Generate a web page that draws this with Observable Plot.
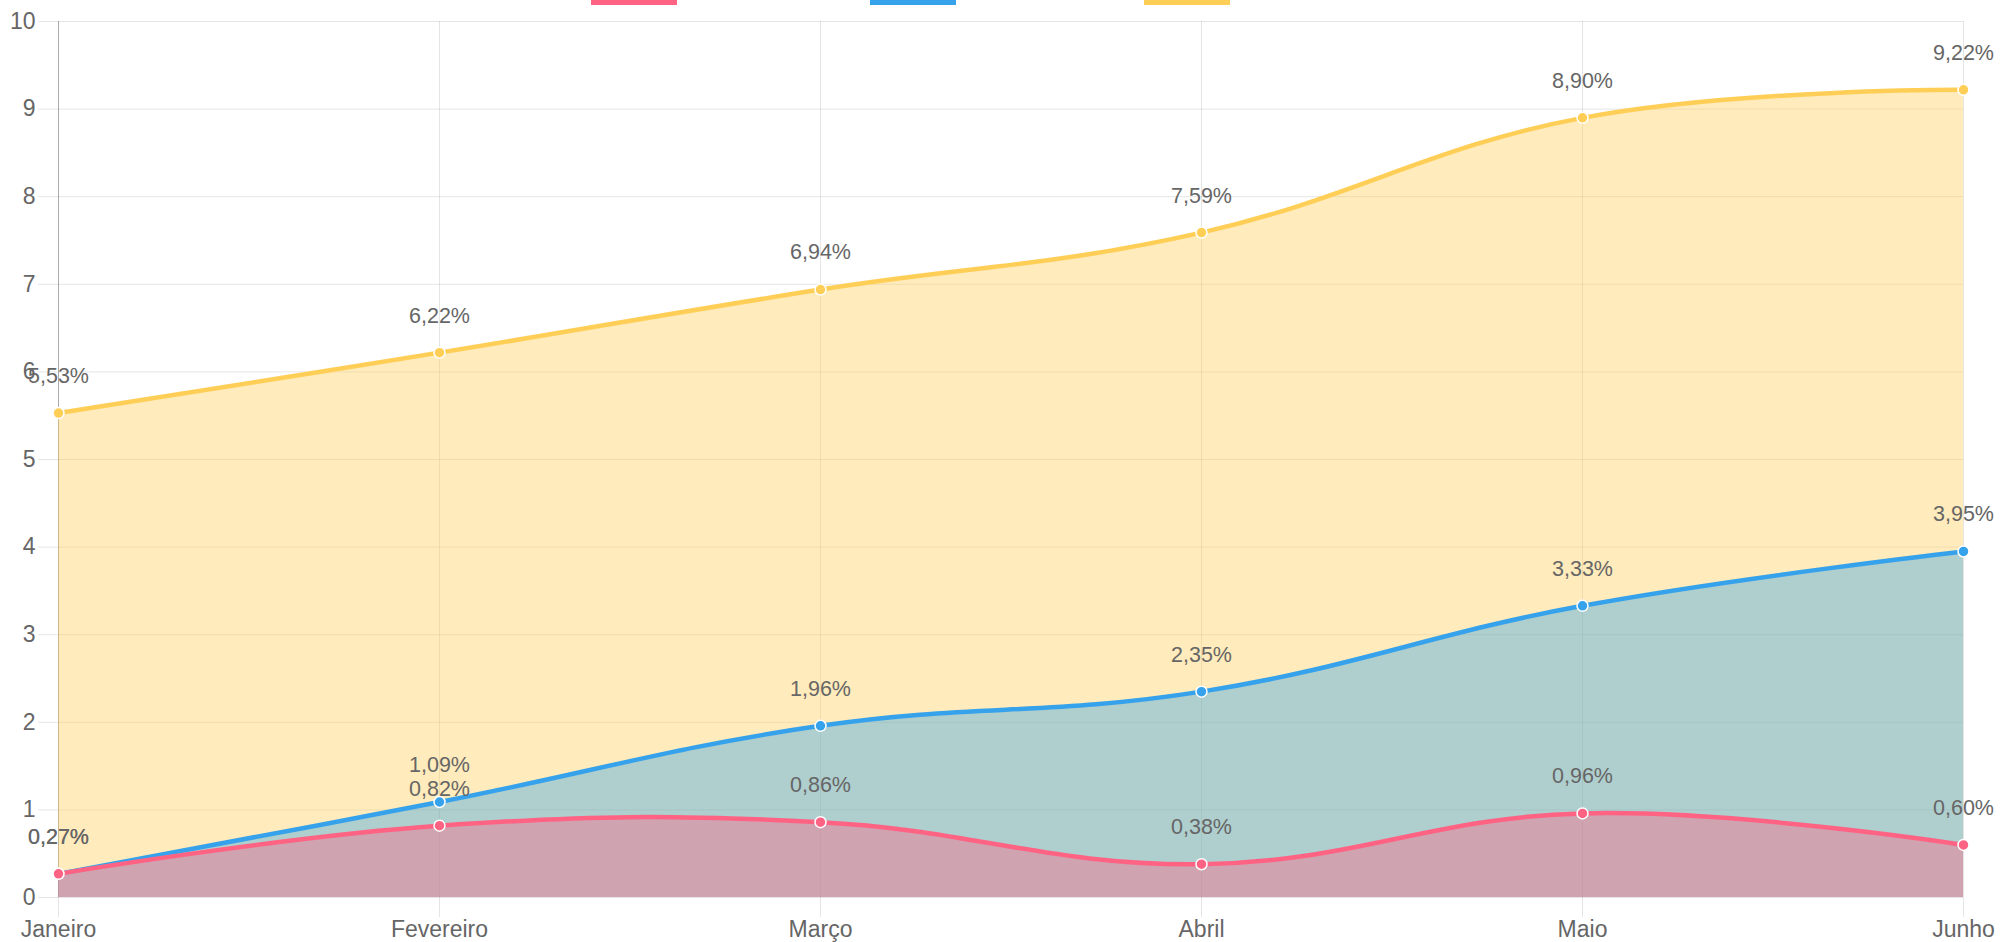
<!DOCTYPE html>
<html>
<head>
<meta charset="utf-8">
<script src="https://cdn.jsdelivr.net/npm/d3@7"></script>
<script src="https://cdn.jsdelivr.net/npm/@observablehq/plot@0.6"></script>
<style>
  html, body { margin: 0; padding: 0; background: #fff; }
  #legend { position: relative; width: 2002px; height: 5px; }
  #legend div { position: absolute; top: 0; height: 5px; width: 86px; }
</style>
</head>
<body>
<div id="legend"></div>
<div id="chart"></div>
<script>
const months = ["Janeiro", "Fevereiro", "Março", "Abril", "Maio", "Junho"];
const seriesNames = ["A", "B", "C"];
const seriesColors = ["#ff6384", "#36a2eb", "#ffce56"];
const pinkValues = [0.27, 0.82, 0.86, 0.38, 0.96, 0.60];
const blueValues = [0.27, 1.09, 1.96, 2.35, 3.33, 3.95];
const yellowValues = [5.53, 6.22, 6.94, 7.59, 8.90, 9.22];
const yTicks = [0, 1, 2, 3, 4, 5, 6, 7, 8, 9, 10];

const seriesValues = [pinkValues, blueValues, yellowValues];

// legend (only the lower edge of the boxes is visible in the reference)
const legendLeft = [591, 870, 1144];
const legend = document.getElementById("legend");
seriesColors.forEach((c, i) => {
  const d = document.createElement("div");
  d.style.left = legendLeft[i] + "px";
  d.style.background = c;
  legend.appendChild(d);
});

const fmt = v => v.toFixed(2).replace(".", ",") + "%";
const curve = "cardinal";
const tension = -0.2;

// draw order: yellow (bottom), blue, pink (top)
const order = [2, 1, 0];
const seriesMarks = [];
for (const i of order) {
  const data = months.map((m, j) => ({month: m, value: seriesValues[i][j]}));
  seriesMarks.push(
    Plot.areaY(data, {x: "month", y: "value", fill: seriesColors[i], fillOpacity: 0.4, curve, tension}),
    Plot.lineY(data, {x: "month", y: "value", stroke: seriesColors[i], strokeWidth: 4.5, curve, tension}),
    Plot.dot(data, {x: "month", y: "value", r: 5.5, fill: seriesColors[i], stroke: "#fff", strokeWidth: 1.5})
  );
}
const labelMarks = [];
for (const i of order) {
  const data = months.map((m, j) => ({month: m, value: seriesValues[i][j]}));
  labelMarks.push(
    Plot.text(data, {x: "month", y: "value", text: d => fmt(d.value), dy: -37, fontSize: 21.5, fill: "#666"})
  );
}

const chart = Plot.plot({
  width: 2002,
  height: 937,
  marginTop: 16,
  marginBottom: 45,
  marginLeft: 57,
  marginRight: 39,
  style: {fontFamily: "'Helvetica Neue', Helvetica, Arial, 'Liberation Sans', sans-serif", fontSize: "23px", color: "#666", background: "#fff", overflow: "visible"},
  x: {type: "point", domain: months, padding: 0},
  y: {domain: [0, 10]},
  marks: [
    Plot.gridY(yTicks, {stroke: "#000", strokeOpacity: 0.1, strokeWidth: 1}),
    Plot.gridX(months, {stroke: "#000", strokeOpacity: 0.1, strokeWidth: 1}),
    Plot.axisY(yTicks, {tickSize: 19, tickPadding: 3, tickFormat: d => String(d), fontSize: 23, fill: "#666", stroke: "#000", strokeOpacity: 0.1, label: null}),
    Plot.axisX(months, {tickSize: 20, tickPadding: 3, fontSize: 23, fill: "#666", stroke: "#000", strokeOpacity: 0.1, label: null}),
    Plot.ruleX([months[0]], {y1: 0, y2: 10, stroke: "#000", strokeOpacity: 0.25}),
    ...seriesMarks,
    ...labelMarks
  ]
});
document.getElementById("chart").appendChild(chart);
</script>
</body>
</html>
